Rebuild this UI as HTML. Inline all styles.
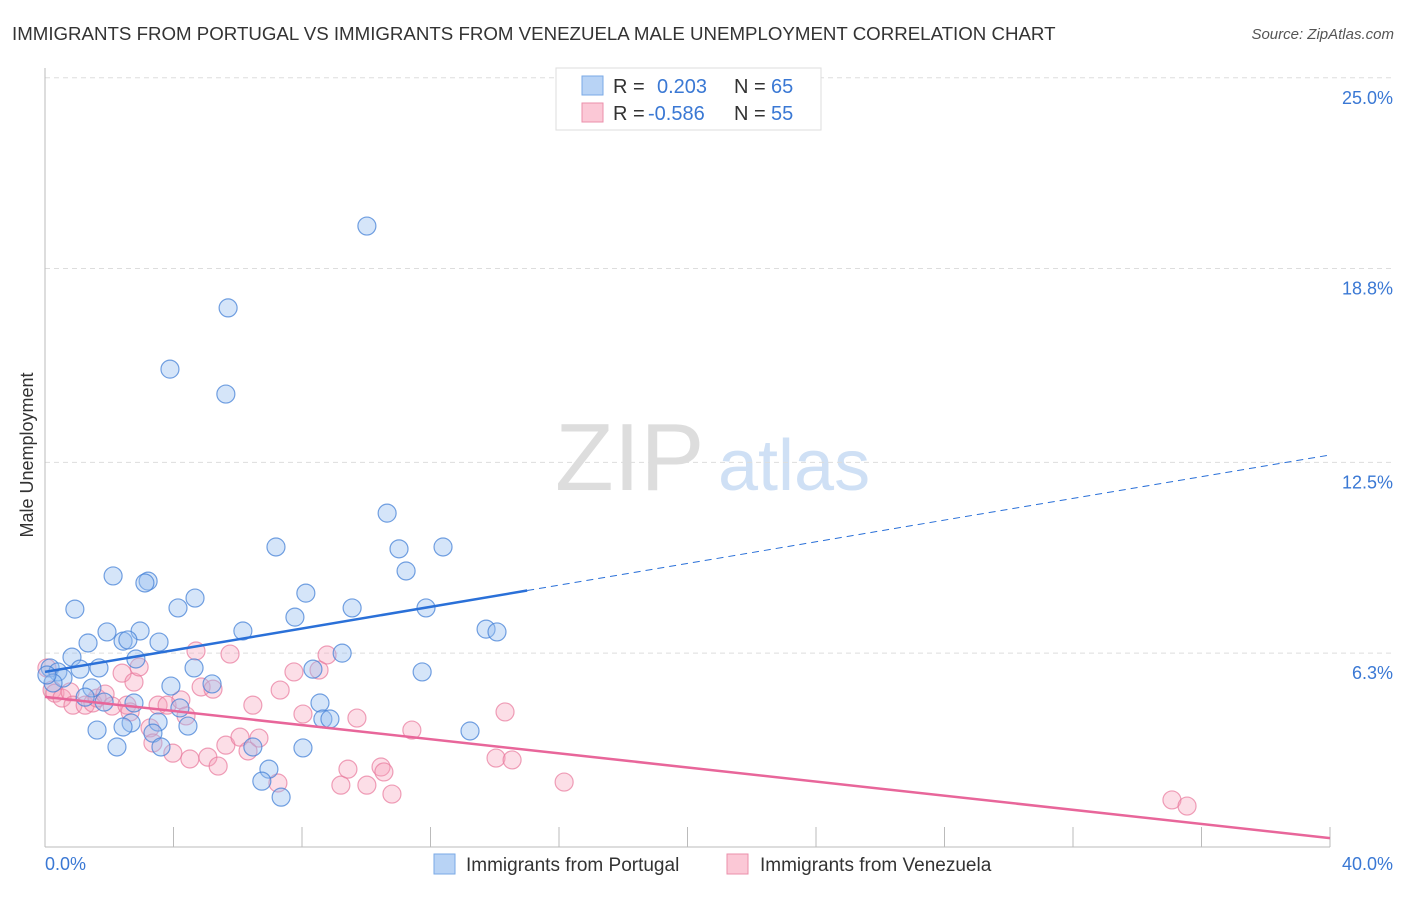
<!DOCTYPE html>
<html><head><meta charset="utf-8"><style>
body{margin:0;background:#fff;font-family:"Liberation Sans",sans-serif}
svg text{font-family:"Liberation Sans",sans-serif}
</style></head><body>
<svg id="c" width="1406" height="892">
<text x="12" y="40" font-size="18.7" fill="#333">IMMIGRANTS FROM PORTUGAL VS IMMIGRANTS FROM VENEZUELA MALE UNEMPLOYMENT CORRELATION CHART</text>
<text x="1394" y="39" font-size="15" fill="#555" font-style="italic" text-anchor="end">Source: ZipAtlas.com</text>
<text x="555" y="490" font-size="96" fill="#ddd" font-family="Liberation Serif">ZIP</text>
<text x="718" y="490" font-size="72" fill="#cfe0f5">atlas</text>
<text transform="translate(33,455) rotate(-90)" font-size="18" fill="#333" text-anchor="middle">Male Unemployment</text>
<g id="grid"></g><g id="pts"></g><g id="lines"></g>
<g>
<rect x="556" y="68" width="265" height="62" fill="#fff" stroke="#ddd"/>
<rect x="582" y="76" width="21" height="19" fill="#b8d3f5" stroke="#7aa9e6"/>
<rect x="582" y="103" width="21" height="19" fill="#fbc8d6" stroke="#eb8fab"/>
<text x="613" y="93" font-size="20" fill="#333">R = </text><text x="657" y="93" font-size="20" fill="#3a78d4">0.203</text>
<text x="734" y="93" font-size="20" fill="#333">N = </text><text x="771" y="93" font-size="20" fill="#3a78d4">65</text>
<text x="613" y="120" font-size="20" fill="#333">R = </text><text x="648" y="120" font-size="20" fill="#3a78d4">-0.586</text>
<text x="734" y="120" font-size="20" fill="#333">N = </text><text x="771" y="120" font-size="20" fill="#3a78d4">55</text>
</g>
<g>
<rect x="434" y="854" width="21" height="20" fill="#b8d3f5" stroke="#7aa9e6"/>
<text x="466" y="871" font-size="19" fill="#333">Immigrants from Portugal</text>
<rect x="727" y="854" width="21" height="20" fill="#fbc8d6" stroke="#eb8fab"/>
<text x="760" y="871" font-size="19" fill="#333">Immigrants from Venezuela</text>
</g>
</svg>
<script>
const yTicks=[6.3,12.5,18.8,25.0];
const yTickLabels=["6.3%","12.5%","18.8%","25.0%"];
const xTicks=[0,4,8,12,16,20,24,28,32,36,40];
const xEndLabels=["0.0%","40.0%"];
const blueX=[5.70,10.02,3.89,5.63,10.65,7.19,11.02,12.39,11.24,2.12,3.21,3.11,4.67,4.14,0.93,8.12,7.78,9.56,11.86,6.16,1.93,2.96,2.43,2.58,1.34,3.55,13.73,14.07,0.84,2.83,1.68,1.09,4.64,8.34,9.25,11.74,0.16,0.40,0.56,0.25,0.06,1.46,3.92,5.20,1.25,1.84,2.77,4.20,8.56,8.65,8.87,3.52,2.68,4.45,3.36,1.62,2.43,2.24,3.61,6.47,8.03,13.23,6.97,6.75,7.35];
const blueY=[17.52,20.18,15.53,14.72,10.85,9.75,9.69,9.75,8.97,8.81,8.64,8.58,8.09,7.77,7.73,8.25,7.47,7.77,7.77,7.02,6.99,7.02,6.69,6.73,6.63,6.66,7.08,6.99,6.17,6.11,5.82,5.78,5.82,5.78,6.30,5.69,5.82,5.69,5.49,5.33,5.59,5.17,5.23,5.30,4.87,4.71,4.68,4.52,4.68,4.16,4.16,4.06,4.03,3.93,3.70,3.80,3.90,3.25,3.25,3.25,3.22,3.77,2.53,2.14,1.62];
const pinkX=[0.06,0.22,0.31,0.53,0.78,0.87,1.25,1.49,1.62,1.87,2.09,2.55,2.40,2.77,2.93,2.65,3.27,3.36,3.52,3.80,4.23,4.39,3.98,4.51,4.70,4.86,5.23,5.07,5.39,5.76,5.63,6.07,6.32,6.47,6.66,7.32,7.25,7.75,8.03,8.53,8.78,9.21,9.43,9.71,10.02,10.46,10.55,10.80,11.42,14.04,14.54,14.32,16.16,35.08,35.55];
const pinkY=[5.82,5.10,5.00,4.84,5.04,4.61,4.61,4.68,4.84,4.97,4.58,4.61,5.65,5.36,5.85,4.39,3.87,3.38,4.61,4.61,4.78,4.26,3.05,2.86,6.37,5.20,5.13,2.92,2.63,6.27,3.31,3.57,3.12,4.61,3.54,5.10,2.08,5.69,4.32,5.75,6.24,2.01,2.53,4.19,2.01,2.60,2.44,1.72,3.80,2.89,2.83,4.39,2.11,1.53,1.33];
const blueTrend=[5.69,12.74]; const blueSolidEnd=15.01;
const pinkTrend=[4.88,0.29];
const NS="http://www.w3.org/2000/svg";
const X=v=>45+v*32.125, Y=v=>847-v*30.77;
function mk(p,t,a){const e=document.createElementNS(NS,t);for(const k in a)e.setAttribute(k,a[k]);p.appendChild(e);return e;}
const g=document.getElementById('grid'),P=document.getElementById('pts'),L=document.getElementById('lines');
yTicks.forEach((t,i)=>{
 const l=mk(g,'line',{x1:45,x2:1395,y1:Y(t),y2:Y(t),stroke:'#ddd','stroke-dasharray':'5,4'});
 
 
 const tx=mk(g,'text',{x:1393,y:Y(t)+26,'font-size':18,fill:'#3a78d4','text-anchor':'end'});tx.textContent=yTickLabels[i];
 
 
});
const ax=mk(g,'line',{x1:45,x2:45,y1:68,y2:847,stroke:'#bbb'});


const xa=mk(g,'line',{x1:45,x2:1330,y1:847,y2:847,stroke:'#bbb'});


xTicks.forEach(t=>{const l=mk(g,'line',{x1:X(t),x2:X(t),y1:827,y2:847,stroke:'#bbb'});
 
 });
const t0=mk(g,'text',{x:45,y:870,'font-size':18,fill:'#3a78d4'});t0.textContent=xEndLabels[0];


const t1=mk(g,'text',{x:1393,y:870,'font-size':18,fill:'#3a78d4','text-anchor':'end'});t1.textContent=xEndLabels[1];


pinkX.forEach((x,i)=>{const c=mk(P,'circle',{cx:X(x),cy:Y(pinkY[i]),r:9,fill:'rgba(246,160,185,0.35)',stroke:'rgba(232,120,155,0.7)','stroke-width':1.2});
 
 });
blueX.forEach((x,i)=>{const c=mk(P,'circle',{cx:X(x),cy:Y(blueY[i]),r:9,fill:'rgba(150,190,240,0.4)',stroke:'rgba(70,130,215,0.75)','stroke-width':1.2});
 
 });
const bAt=x=>blueTrend[0]+(blueTrend[1]-blueTrend[0])*x/40;
const b1=mk(L,'line',{x1:X(0),y1:Y(bAt(0)),x2:X(blueSolidEnd),y2:Y(bAt(blueSolidEnd)),stroke:'#2a70d8','stroke-width':2.5});


const b2=mk(L,'line',{x1:X(blueSolidEnd),y1:Y(bAt(blueSolidEnd)),x2:X(40),y2:Y(bAt(40)),stroke:'#2a70d8','stroke-width':1,'stroke-dasharray':'7,5'});


const p1=mk(L,'line',{x1:X(0),y1:Y(pinkTrend[0]),x2:X(40),y2:Y(pinkTrend[1]),stroke:'#e8669a','stroke-width':2.5});


</script>
</body></html>
